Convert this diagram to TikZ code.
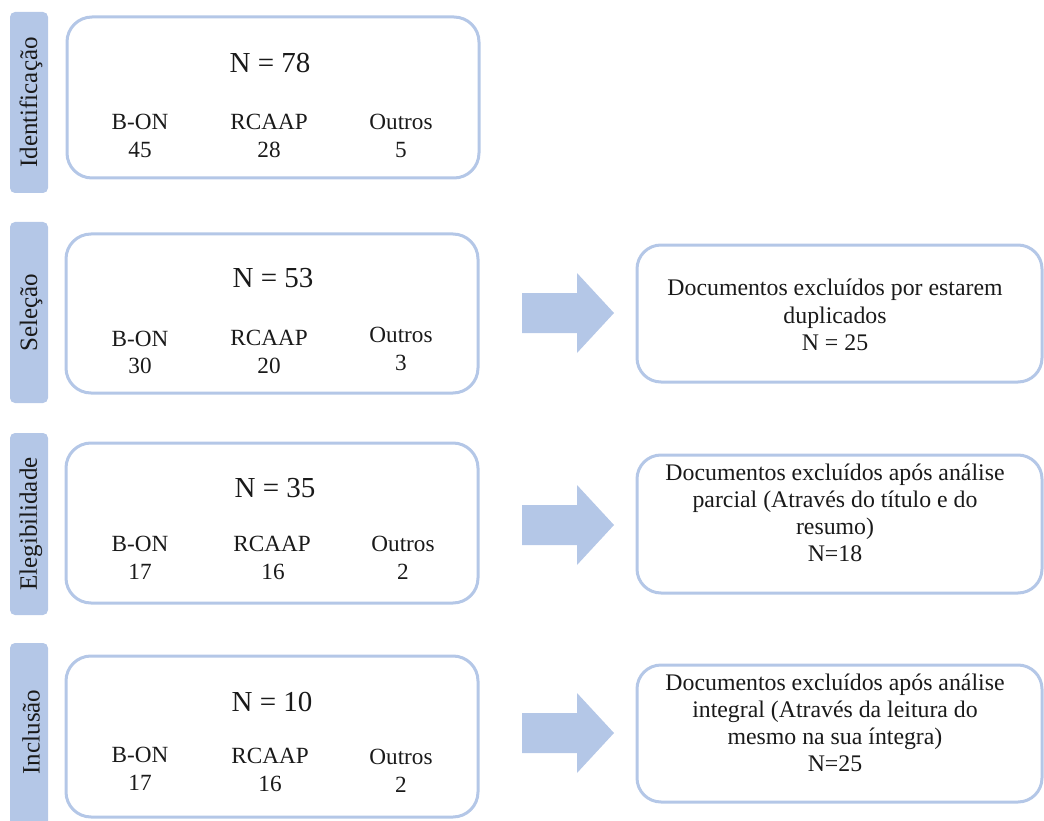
\documentclass[tikz,border=0pt]{standalone}
\usepackage{fontspec}
\setmainfont{Liberation Serif}[Ligatures=TeX]
\newfontfamily\tms{Liberation Serif}
\definecolor{lb}{HTML}{B4C7E7}
\definecolor{tx}{HTML}{1A1A1A}
\begin{document}
\begin{tikzpicture}[x=1pt,y=-1pt,
  bar/.style={fill=lb, rounded corners=5pt},
  bartext/.style={rotate=90, text=tx, font=\tms\fontsize{25}{28}\selectfont, inner sep=0pt},
  mainbox/.style={draw=lb, line width=3pt, rounded corners=25pt, fill=white,
    minimum width=412pt, inner sep=0pt},
  sidebox/.style={draw=lb, line width=3pt, rounded corners=24pt, fill=white,
    minimum width=405pt, inner sep=0pt},
  big/.style={font=\tms\fontsize{29}{32}\selectfont, text=tx, inner sep=0pt},
  small/.style={font=\tms\fontsize{23.2}{27}\selectfont, text=tx, inner sep=0pt},
  side/.style={font=\tms\fontsize{23.8}{27.2}\selectfont, text=tx, inner sep=0pt, align=center},
  blockarrow/.style={fill=lb}
]
\useasboundingbox (0,0) rectangle (1044,821);

% left stage bars
\fill[bar] (10,12) rectangle (48,193);
\fill[bar] (10,222) rectangle (48,403);
\fill[bar] (10,433) rectangle (48,615);
\fill[bar] (10,643) rectangle (48,845);
\node[bartext] (l1) at (31,102.5) {Identificação};
\node[bartext] (l2) at (31,312.5) {Seleção};
\node[bartext] (l3) at (31,524) {Elegibilidade};
\node[bartext] (l4) at (31,732) {Inclusão};

% main boxes
\node[mainbox, minimum height=161pt] (b1) at (273,97.5) {};
\node[mainbox, minimum height=159pt] (b2) at (272,313.5) {};
\node[mainbox, minimum height=160pt] (b3) at (272,523) {};
\node[mainbox, minimum height=161pt] (b4) at (272,736.5) {};

% box 1
\node[big] (n1) at (270,63) {N = 78};
\node[small] (a1) at (140,122) {B-ON};
\node[small] (c1) at (269,122) {RCAAP};
\node[small] (o1) at (401,122) {Outros};
\node[small] (a1n) at (140,150) {45};
\node[small] (c1n) at (269,150) {28};
\node[small] (o1n) at (401,150) {5};

% box 2
\node[big] (n2) at (273,278) {N = 53};
\node[small] (a2) at (140,339) {B-ON};
\node[small] (c2) at (269,338) {RCAAP};
\node[small] (o2) at (401,335) {Outros};
\node[small] (a2n) at (140,366) {30};
\node[small] (c2n) at (269,366) {20};
\node[small] (o2n) at (401,363) {3};

% box 3
\node[big] (n3) at (275,488) {N = 35};
\node[small] (a3) at (140,544) {B-ON};
\node[small] (c3) at (272,544) {RCAAP};
\node[small] (o3) at (403,544) {Outros};
\node[small] (a3n) at (140,572) {17};
\node[small] (c3n) at (273,572) {16};
\node[small] (o3n) at (403,572) {2};

% box 4
\node[big] (n4) at (272,702) {N = 10};
\node[small] (a4) at (140,755) {B-ON};
\node[small] (c4) at (270,756) {RCAAP};
\node[small] (o4) at (401,757) {Outros};
\node[small] (a4n) at (140,783) {17};
\node[small] (c4n) at (270,784) {16};
\node[small] (o4n) at (401,785) {2};

% arrows
\foreach \yy in {313,525,733}{
  \fill[blockarrow] (522,{\yy-20}) -- (577,{\yy-20}) -- (577,{\yy-40}) -- (614,\yy)
    -- (577,{\yy+40}) -- (577,{\yy+20}) -- (522,{\yy+20}) -- cycle;
}

% side boxes
\node[sidebox, minimum height=137pt] (s1) at (839.5,313.5) {};
\node[sidebox, minimum height=138pt] (s2) at (839.5,524) {};
\node[sidebox, minimum height=137pt] (s3) at (839.5,733.5) {};
\node[side] (t1) at (835,315) {Documentos excluídos por estarem\\duplicados\\N = 25};
\node[side] (t2) at (835,513) {Documentos excluídos após análise\\parcial (Através do título e do\\resumo)\\N=18};
\node[side] (t3) at (835,723) {Documentos excluídos após análise\\integral (Através da leitura do\\mesmo na sua íntegra)\\N=25};
\end{tikzpicture}
\end{document}
